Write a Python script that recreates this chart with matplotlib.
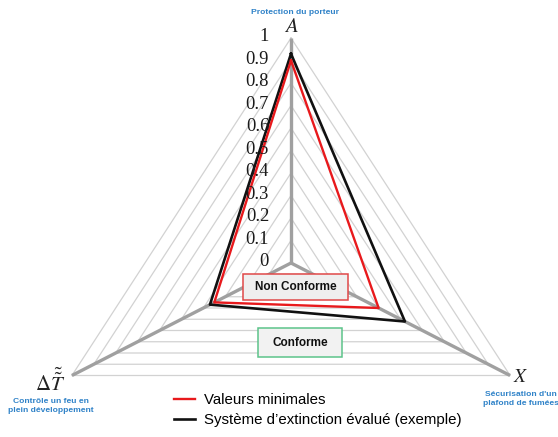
import numpy as np
import matplotlib
matplotlib.use("Agg")
import matplotlib.pyplot as plt
from matplotlib.patches import Rectangle

plt.rcParams['font.family'] = ['Liberation Sans', 'DejaVu Sans']
plt.rcParams['mathtext.fontset'] = 'stix'

# ---- data ----
axes_labels = ["Protection du porteur", "Sécurisation d'un\nplafond de fumées", "Contrôle un feu en\nplein développement"]
axes_symbols = [r'$A$', r'$X$', r'$\Delta\tilde{\tilde{T}}$']
series_names = ["Valeurs minimales", "Système d’extinction évalué (exemple)"]
valeurs_minimales = [0.90, 0.40, 0.35]
systeme_evalue = [0.93, 0.52, 0.37]
scale_ticks = [0, 0.1, 0.2, 0.3, 0.4, 0.5, 0.6, 0.7, 0.8, 0.9, 1]
scale_labels = ["0", "0.1", "0.2", "0.3", "0.4", "0.5", "0.6", "0.7", "0.8", "0.9", "1"]

W, H = 558, 437
fig = plt.figure(figsize=(W / 100, H / 100), dpi=100)
ax = fig.add_axes([0, 0, 1, 1])
# pixel mapping: center (291,263), 253 px/unit in x, 225 px/unit in y
cx, cy, sx, sy = 291, 263, 253, 225
ax.set_xlim(-cx / sx, (W - cx) / sx)
ax.set_ylim((cy - H) / sy, cy / sy)
ax.axis('off')

theta = np.deg2rad([0, 120, 240])

def xy(vals):
    v = np.asarray(vals, dtype=float)
    x = v * np.sin(theta)
    y = v * np.cos(theta)
    return np.append(x, x[0]), np.append(y, y[0])

def fx(px):
    return px / W

def fy(py):
    return 1 - py / H

# grid triangles
for r in scale_ticks[1:]:
    gx, gy = xy([r, r, r])
    ax.plot(gx, gy, color='#d2d2d2', lw=0.9, zorder=1)
# spokes
for t in theta:
    ax.plot([0, np.sin(t)], [0, np.cos(t)], color='#a0a0a0', lw=2.4, zorder=2, solid_capstyle='butt')

# series
rx, ry = xy(valeurs_minimales)
l1, = ax.plot(rx, ry, color='#e8191c', lw=1.7, zorder=4, label=series_names[0])
bx, by = xy(systeme_evalue)
l2, = ax.plot(bx, by, color='#111111', lw=1.9, zorder=3, label=series_names[1])

# scale labels
for t, lab in zip(scale_ticks, scale_labels):
    ax.text(-22 / sx, t + 0.005, lab, ha='right', va='center', fontsize=13.3,
            family='Liberation Serif', color='#1a1a1a', zorder=5)

# axis symbols
fig.text(fx(291), fy(27), axes_symbols[0], ha='center', va='center', fontsize=15, color='#222222')
fig.text(fx(521), fy(378), axes_symbols[1], ha='center', va='center', fontsize=14, color='#222222')
fig.text(fx(50), fy(381), axes_symbols[2], ha='center', va='center', fontsize=15, color='#222222')

# axis names
blue = '#2f82c8'
fig.text(fx(295), fy(13), axes_labels[0], ha='center', va='center', fontsize=6.1, fontweight='bold', color=blue)
fig.text(fx(521), fy(399), axes_labels[1], ha='center', va='center', fontsize=6.1, fontweight='bold', color=blue, linespacing=1.25)
fig.text(fx(51), fy(406), axes_labels[2], ha='center', va='center', fontsize=6.1, fontweight='bold', color=blue, linespacing=1.25)

# zone boxes
fig.patches.append(Rectangle((fx(243), fy(300)), (348 - 243) / W, (300 - 274) / H, transform=fig.transFigure,
                             facecolor='#efefef', edgecolor='#e04848', lw=1.1, zorder=6))
fig.text(fx(296), fy(287), "Non Conforme", ha='center', va='center', fontsize=8.5, fontweight='bold', color='#111111', zorder=7)
fig.patches.append(Rectangle((fx(258), fy(357)), (342 - 258) / W, (357 - 328) / H, transform=fig.transFigure,
                             facecolor='#f2f2f2', edgecolor='#5cc48a', lw=1.1, zorder=6))
fig.text(fx(300), fy(343), "Conforme", ha='center', va='center', fontsize=8.5, fontweight='bold', color='#111111', zorder=7)

fig.legend(handles=[l1, l2], loc='upper left', bbox_to_anchor=(fx(174), fy(393)), frameon=False,
           fontsize=10.8, handlelength=1.4, handletextpad=0.6, labelspacing=0.4, borderpad=0,
           borderaxespad=0)

fig.savefig('out.png', dpi=100)
